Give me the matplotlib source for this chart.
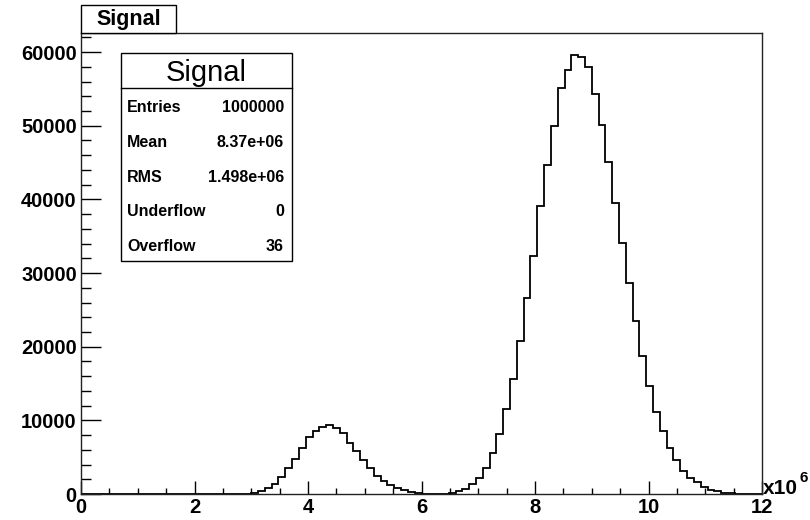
import numpy as np
import matplotlib
matplotlib.use("Agg")
import matplotlib.pyplot as plt
from matplotlib.patches import Rectangle
from matplotlib.lines import Line2D

# histogram "Signal": 100 bins between 0 and 12e6
nbins = 100
xmin, xmax = 0.0, 12e6
counts = [0] * 25 + [
    100, 370, 770, 1360, 2270, 3490, 4710, 6200, 7690, 8590,      # 25-34
    9100, 9320, 8910, 8240, 6960, 5830, 4610, 3570, 2440, 1810,   # 35-44
    1220, 860, 540, 310, 160, 60, 0, 0, 40, 160,                  # 45-54
    370, 720, 1400, 2220, 3490, 5520, 8140, 11530, 15600, 20800,  # 55-64
    26640, 32340, 39080, 44640, 49930, 55130, 57630, 59610, 59340, 57980,  # 65-74
    54370, 50160, 45090, 39520, 34100, 28590, 23430, 18770, 14650, 11170,  # 75-84
    8500, 6200, 4570, 3160, 2220, 1590, 1000, 540, 370, 200,      # 85-94
    120, 0, 0, 0, 0,                                              # 95-99
]
edges = np.linspace(xmin, xmax, nbins + 1)

xticks = [0, 2e6, 4e6, 6e6, 8e6, 10e6, 12e6]
yticks = [0, 10000, 20000, 30000, 40000, 50000, 60000]

stat_names = ["Entries", "Mean", "RMS", "Underflow", "Overflow"]
stat_values = ["1000000", "8.37e+06", "1.498e+06", "0", "36"]

W, H = 810, 520
fx = lambda px: px / W
fy = lambda py: 1 - py / H

plt.rcParams["font.family"] = ["Liberation Sans", "DejaVu Sans"]
fig = plt.figure(figsize=(8.1, 5.2), dpi=100)
ax = fig.add_axes([fx(81), fy(494), fx(762) - fx(81), fy(33) - fy(494)])

ax.stairs(counts, edges, color="black", linewidth=1.3)
ax.set_xlim(xmin, xmax)
ax.set_ylim(0, 1.05 * max(counts))

ax.set_xticks(xticks)
ax.set_xticklabels([f"{t / 1e6:g}" for t in xticks])
ax.set_xticks(np.arange(0, xmax + 1, 0.5e6), minor=True)
ax.set_yticks(yticks)
ax.set_yticklabels([f"{t:d}" for t in yticks])
ax.set_yticks(np.arange(0, 62001, 2000), minor=True)

ax.tick_params(axis="x", which="major", direction="in", length=9.5, width=1,
               labelsize=14.5, pad=3, top=False)
ax.tick_params(axis="x", which="minor", direction="in", length=4.5, width=1, top=False)
ax.tick_params(axis="y", which="major", direction="in", length=14.5, width=1,
               labelsize=14.5, pad=3, right=False)
ax.tick_params(axis="y", which="minor", direction="in", length=7, width=1, right=False)
for lbl in ax.get_xticklabels() + ax.get_yticklabels():
    lbl.set_fontweight("bold")
for sp in ax.spines.values():
    sp.set_linewidth(1)
    sp.set_color("#222222")

# x10^6 multiplier
fig.text(fx(763), fy(489), "x10", fontsize=15, fontweight="bold", va="center", ha="left")
fig.text(fx(800), fy(478), "6", fontsize=11, fontweight="bold", va="center", ha="left")

# title box
fig.patches.append(Rectangle((fx(81), fy(33)), fx(176) - fx(81), fy(5) - fy(33),
                             transform=fig.transFigure, facecolor="white",
                             edgecolor="black", linewidth=1, zorder=5))
fig.text(fx(128.5), fy(19), "Signal", fontsize=15.5, fontweight="bold",
         ha="center", va="center", zorder=6)

# stats box
bx0, by0, bx1, by1 = 120.7, 53.3, 292.3, 260.7
fig.patches.append(Rectangle((fx(bx0), fy(by1)), fx(bx1) - fx(bx0), fy(by0) - fy(by1),
                             transform=fig.transFigure, facecolor="white",
                             edgecolor="black", linewidth=1, zorder=5))
fig.lines.append(Line2D([fx(bx0), fx(bx1)], [fy(88.3), fy(88.3)],
                        transform=fig.transFigure, color="black", linewidth=1, zorder=6))
fig.text(fx(206.5), fy(73), "Signal", fontsize=21, ha="center", va="center", zorder=6)
for i, (n, v) in enumerate(zip(stat_names, stat_values)):
    yy = fy(107.5 + i * 34.8)
    fig.text(fx(127), yy, n, fontsize=11.5, fontweight="bold", ha="left", va="center",
             zorder=6)
    fig.text(fx(284), yy, v, fontsize=11.5, fontweight="bold", ha="right", va="center",
             zorder=6)

fig.savefig("out.png", dpi=100)
